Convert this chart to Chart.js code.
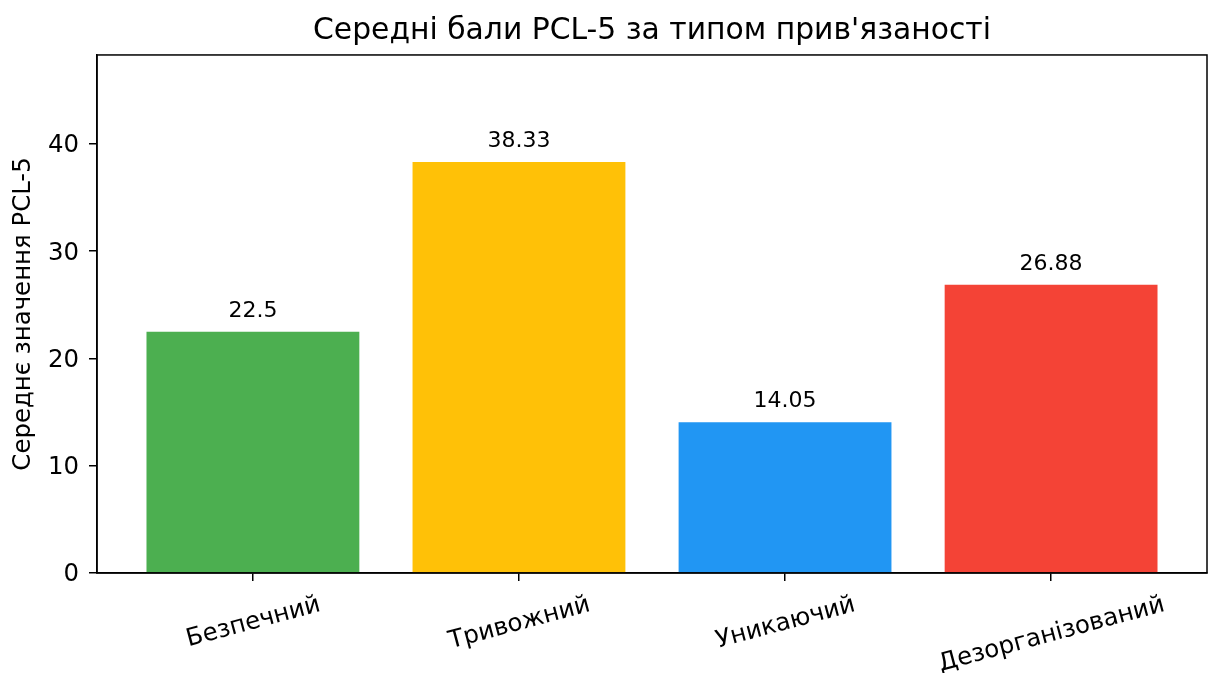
<!DOCTYPE html>
<html>
<head>
<meta charset="utf-8">
<script src="https://cdn.jsdelivr.net/npm/chart.js@4.4.1/dist/chart.umd.min.js"></script>
<style>
  html, body { margin: 0; padding: 0; background: #fff; }
  #wrap { width: 1208px; height: 673px; }
</style>
</head>
<body>
<div id="wrap"><canvas id="c" width="1208" height="673"></canvas></div>
<script>
const categories = ['Безпечний', 'Тривожний', 'Уникаючий', 'Дезорганізований'];
const meanScores = [22.5, 38.33, 14.05, 26.88];
const barColors = ['#4CAF50', '#FFC107', '#2196F3', '#F44336'];
const yTicks = [0, 10, 20, 30, 40];
const titleText = 'Середні бали PCL-5 за типом прив\'язаності';
const yTitleText = 'Середнє значення PCL-5';

const FONT = "'DejaVu Sans', sans-serif";
const TICK_SIZE = 24.4;

const framePlugin = {
  id: 'frame',
  afterDatasetsDraw(chart) {
    const { ctx, chartArea: a } = chart;
    ctx.save();
    ctx.strokeStyle = '#000';
    ctx.lineWidth = 1.5;
    ctx.strokeRect(a.left, a.top, a.right - a.left, a.bottom - a.top);
    ctx.restore();
  }
};

const barLabelPlugin = {
  id: 'barLabels',
  afterDatasetsDraw(chart) {
    const { ctx } = chart;
    const meta = chart.getDatasetMeta(0);
    ctx.save();
    ctx.font = '22px ' + FONT;
    ctx.fillStyle = '#000';
    ctx.textAlign = 'center';
    ctx.textBaseline = 'alphabetic';
    meta.data.forEach((bar, i) => {
      ctx.fillText(String(meanScores[i]), bar.x, bar.y - 15);
    });
    ctx.restore();
  }
};

const xLabelPlugin = {
  id: 'xLabels',
  afterDraw(chart) {
    const { ctx, chartArea: a } = chart;
    const xs = chart.scales.x;
    const size = TICK_SIZE;
    const ang = 15 * Math.PI / 180;
    ctx.save();
    ctx.font = size + 'px ' + FONT;
    ctx.fillStyle = '#000';
    ctx.textAlign = 'center';
    ctx.textBaseline = 'alphabetic';
    categories.forEach((lab, i) => {
      const x = xs.getPixelForValue(i);
      const w = ctx.measureText(lab).width;
      const h = size * 1.164;
      const bh = w * Math.sin(ang) + h * Math.cos(ang);
      const cy = a.bottom + 8 + 7.8 + bh / 2;
      ctx.save();
      ctx.translate(x, cy);
      ctx.rotate(-ang);
      ctx.fillText(lab, 0, size * 0.346);
      ctx.restore();
    });
    ctx.restore();
  }
};

new Chart(document.getElementById('c'), {
  type: 'bar',
  data: {
    datasets: [{
      data: meanScores.map((v, i) => ({ x: i, y: v })),
      backgroundColor: barColors,
      borderWidth: 0,
      barPercentage: 1.0,
      categoryPercentage: 0.8
    }]
  },
  options: {
    responsive: false,
    animation: false,
    devicePixelRatio: 1,
    layout: { padding: { left: 0, right: 1, top: 0, bottom: 0 } },
    plugins: {
      legend: { display: false },
      tooltip: { enabled: false },
      title: {
        display: true,
        text: titleText,
        fullSize: false,
        color: '#000',
        font: { family: FONT, size: 29.8, weight: 'normal', lineHeight: 1.2 },
        padding: { top: 13.4, bottom: 5.8 }
      }
    },
    scales: {
      x: {
        type: 'linear',
        offset: false,
        min: -0.586,
        max: 3.586,
        afterBuildTicks(scale) { scale.ticks = categories.map((c, i) => ({ value: i })); },
        afterFit(scale) { scale.height = 100; },
        ticks: { display: false },
        grid: { offset: false, drawOnChartArea: false, drawTicks: true, tickLength: 8, color: '#000', tickColor: '#000', lineWidth: 1.5 },
        border: { display: true, color: '#000', width: 1.5 }
      },
      y: {
        type: 'linear',
        min: 0,
        max: 48.3,
        afterBuildTicks(scale) { scale.ticks = yTicks.map(v => ({ value: v })); },
        afterFit(scale) { scale.width = 97; },
        ticks: { color: '#000', font: { family: FONT, size: TICK_SIZE }, padding: 10, labelOffset: 2 },
        grid: { drawOnChartArea: false, drawTicks: true, tickLength: 8, color: '#000', tickColor: '#000', lineWidth: 1.5 },
        border: { display: true, color: '#000', width: 1.5 },
        title: {
          display: true,
          text: yTitleText,
          color: '#000',
          font: { family: FONT, size: TICK_SIZE, weight: 'normal', lineHeight: 1.2 },
          padding: { top: 9, bottom: 0 }
        }
      }
    }
  },
  plugins: [framePlugin, barLabelPlugin, xLabelPlugin]
});
</script>
</body>
</html>
